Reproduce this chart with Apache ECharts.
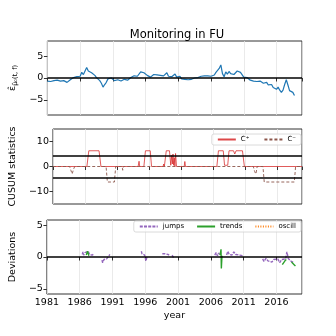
<!DOCTYPE html>
<html style="height: 100%">
<head>
<meta charset="utf-8">
<script src="https://cdn.jsdelivr.net/npm/echarts@6/dist/echarts.min.js"></script>
</head>
<body style="height: 100%; margin: 0; background: #fff;">
<div id="container" style="width: 336px; height: 336px;"></div>
<script type="text/javascript">
// 数据
var BASE_YEAR = 1981;
var xTickYears = [1981, 1986, 1991, 1996, 2001, 2006, 2011, 2016];

// 上图：残差，季度采样，从 1981.0 开始
var residStart = 1981.0;
var residStep = 0.25;
var residValues = [
  -0.7, -0.6, -0.8, -0.7,  -0.6, -0.7, -0.5, -0.6,  -0.7, -0.8, -0.6, -0.9,
  -1.0, -0.7, -0.4, -0.2,   0.1, -0.2, 0.3, 0.0,    0.4, 1.3, 0.8, 1.6,
  2.4, 1.6, 1.9, 1.2,       1.0, 0.6, 0.1, -0.3,   -0.6, -1.2, -2.1, -1.5,
  -1.0, -0.2, 0.2, 0.0,    -0.4, -0.6, -0.7, -0.4, -0.5, -0.7, -0.5, -0.3,
  -0.4, -0.5, -0.2, 0.1,    0.3, 0.5, 0.9, 0.4,     0.8, 1.4, 1.7, 1.2,
  1.5, 0.6, 0.3, 0.2,       0.5, 0.8, 0.4, 0.7,     1.1, 0.6, 1.0, 0.5,
  0.8, 1.2, 0.4, 0.1,       0.3, 0.6, 0.9, 0.2,     0.5, 0.4, -0.2, -0.4,
  -0.3, -0.6, -0.4, -0.2,  -0.3, -0.1, 0.0, 0.2,    0.1, 0.3, 0.4, 0.2,
  0.5, 0.7, 0.5, 0.6,       0.4, 0.8, 0.7, 1.3,     1.5, 2.2, 3.0, 1.0,
  0.3, 1.4, 0.9, 1.5,       1.0, 1.3, 0.8, 1.1,     1.6, 1.8, 1.3, 0.9,
  0.2, -0.1, 0.1, -0.3,    -0.5, -0.4, -0.7, -0.5, -0.8, -1.0, -0.7, -1.1,
  -1.2, -1.4, -1.0, -1.6,  -1.8, -1.5, -2.2, -2.0, -2.6, -2.1, -2.8, -3.3,
  -2.8, -1.5, -0.4, -1.6,  -2.9, -2.7, -3.3, -4.0
];

// 中图：CUSUM
var cPlus = [
  [1981, 0], [1986.3, 0], [1986.6, 6.3], [1988.2, 6.3], [1988.5, 0],
  [1994.3, 0], [1994.45, 2.1], [1994.55, 0], [1995.2, 0], [1995.45, 6.3],
  [1996.2, 6.3], [1996.4, 0], [1998.2, 0], [1998.3, 1], [1998.4, 0],
  [1998.5, 0], [1998.7, 6.3], [1999.2, 6.3], [1999.4, 0.5], [1999.55, 4.5],
  [1999.65, 1], [1999.75, 5], [1999.85, 0.5], [1999.95, 3.5], [2000.05, 0],
  [2000.15, 5.2], [2000.3, 0], [2001.5, 0], [2001.6, 2], [2001.7, 0],
  [2006.6, 0], [2006.85, 6.3], [2007.6, 6.3], [2007.8, 0.5], [2008.0, 0.8],
  [2008.3, 0.5], [2008.5, 6.3], [2009.2, 6.3], [2009.4, 5.0], [2009.6, 6.3],
  [2010.6, 6.3], [2010.9, 0], [2019.9, 0]
];
var cMinus = [
  [1981, 0], [1983.6, 0], [1983.8, -1.5], [1984.0, -3], [1984.2, -1.2],
  [1984.4, 0], [1989.3, 0], [1989.5, -6.2], [1990.6, -6.2], [1990.8, 0],
  [1991.8, 0], [1991.9, -1.5], [1992.0, 0], [2012.3, 0], [2012.5, -2],
  [2012.7, -3], [2012.9, 0], [2013.8, 0], [2014.0, -6.2], [2018.7, -6.2],
  [2018.9, 0], [2019.9, 0]
];
var thresholds = [4.35, -4.35];

// 下图：偏差（分段）
var jumpsSegments = [
  [[1986.4, 0.4], [1986.5, 0.8], [1986.6, 0.3], [1986.8, 0.7], [1987.0, 0.5], [1987.3, 0.9], [1987.5, 0.4], [1987.7, 0.7], [1987.9, 0.3], [1988.2, 0.5]],
  [[1989.4, -0.5], [1989.5, -0.9], [1989.7, -0.4], [1989.9, -0.7], [1990.1, -0.3], [1990.4, 0.1], [1990.6, 0.4]],
  [[1995.4, 0.9], [1995.5, 0.5], [1995.7, 0.8], [1995.9, 0.3], [1996.0, 0.5], [1996.1, -0.6], [1996.3, 0.2]],
  [[1998.6, 0.5], [1998.8, 0.3], [1999.0, 0.5], [1999.2, 0.2], [1999.5, 0.4], [1999.7, 0.2]],
  [[2000.1, 0.3], [2000.3, -0.1]],
  [[2006.6, 0.3], [2006.8, 0.7], [2007.0, 0.2], [2007.2, 0.6], [2007.3, 0.4]],
  [[2008.4, 0.3], [2008.6, 0.9], [2008.8, 0.4], [2009.0, 0.7], [2009.2, 0.3], [2009.5, 0.8], [2009.8, 0.4], [2010.1, 0.7], [2010.4, 0.3], [2010.7, 0.5], [2010.9, 0.2]],
  [[2013.9, -0.3], [2014.1, -0.7], [2014.4, -0.2], [2014.7, -0.6], [2015.0, -0.3], [2015.3, -0.8], [2015.6, -0.4], [2015.9, -0.7], [2016.2, -0.3], [2016.5, -0.9], [2016.8, -0.4], [2017.1, -0.7], [2017.4, -0.3], [2017.6, 0.8], [2017.8, -0.2], [2018.1, -0.6], [2018.4, -0.3], [2018.7, -0.9]]
];
var trendsSegments = [
  [[1987.0, 0.3], [1987.2, 0.9], [1987.4, 0.2]],
  [[2007.4, 0.3], [2007.55, 1.2], [2007.6, -1.8], [2007.7, 0.2]],
  [[2016.9, -1.2], [2017.1, -0.9], [2017.3, -0.6], [2017.5, -0.4]],
  [[2018.3, -0.8], [2018.5, -1.0], [2018.7, -1.2], [2018.9, -1.4]]
];
var oscillSegments = [];

var yTicks1 = [-5, 0, 5];
var yTicks2 = [-10, 0, 10];
var yTicks3 = [-5, 0, 5];

// 转换
function shift(pts) {
  return pts.map(function (p) { return [p[0] - BASE_YEAR, p[1]]; });
}
var residData = residValues.map(function (v, i) {
  return [residStart + i * residStep - BASE_YEAR, v];
});

var FONT = 'DejaVu Sans';
var grids = [
  {left: 42, top: 41, width: 260, height: 74},
  {left: 42, top: 129, width: 260, height: 75},
  {left: 42, top: 220, width: 260, height: 74}
];
grids.forEach(function (g) {
  g.show = true; g.borderColor = '#333'; g.borderWidth = 1; g.backgroundColor = 'transparent';
});

function xAxis(idx, showLabel) {
  return {
    type: 'value', gridIndex: idx, min: 0, max: 38.9, interval: 5,
    axisLine: {show: false},
    axisTick: {show: true, length: 3.5, lineStyle: {color: '#333'}},
    axisLabel: {show: showLabel, color: '#000', fontFamily: FONT, fontSize: 9.5, margin: 4,
      formatter: function (v) { return String(v + BASE_YEAR); }},
    splitLine: {show: true, lineStyle: {color: '#e4e4e4', width: 0.8}},
    name: showLabel ? 'year' : '', nameLocation: 'middle', nameGap: 17,
    nameTextStyle: {fontFamily: FONT, fontSize: 9.5, color: '#000'}
  };
}
function yAxis(idx, min, max, ticks, name, gap, rich) {
  return {
    type: 'value', gridIndex: idx, min: min, max: max,
    axisLine: {show: false},
    axisTick: {show: true, length: 3.5, lineStyle: {color: '#333'}, customValues: ticks},
    axisLabel: {color: '#000', fontFamily: FONT, fontSize: 9.5, margin: 4, customValues: ticks,
      formatter: function (v) { return v < 0 ? '\u2212' + Math.abs(v) : String(v); }},
    splitLine: {show: false},
    name: name, nameLocation: 'middle', nameGap: gap, nameRotate: 90,
    nameTextStyle: {fontFamily: FONT, fontSize: 9.5, color: '#000', rich: rich}
  };
}

var blackLine = {color: '#000', width: 1.5, type: 'solid'};
var series = [
  {
    name: 'resid', type: 'line', xAxisIndex: 0, yAxisIndex: 0, data: residData,
    symbol: 'none', lineStyle: {color: '#1f77b4', width: 1.2}, z: 3,
    markLine: {silent: true, symbol: 'none', label: {show: false}, lineStyle: blackLine,
      data: [{yAxis: 0}]}
  },
  {
    name: 'C\u207A', type: 'line', xAxisIndex: 1, yAxisIndex: 1, data: shift(cPlus),
    symbol: 'none', itemStyle: {color: '#d62728'}, lineStyle: {color: '#d62728', width: 0.9, opacity: 0.85},
    markLine: {silent: true, symbol: 'none', label: {show: false}, lineStyle: blackLine,
      data: thresholds.map(function (t) { return {yAxis: t}; })}
  },
  {
    name: 'C\u207B', type: 'line', xAxisIndex: 1, yAxisIndex: 1, data: shift(cMinus),
    symbol: 'none', itemStyle: {color: '#8c564b'}, lineStyle: {color: '#8c564b', width: 0.9, type: [3, 2]}
  }
];
var segStyles = [
  ['jumps', jumpsSegments, '#9467bd', [3, 1.2], 3],
  ['trends', trendsSegments, '#2ca02c', 'solid', 4],
  ['oscill', oscillSegments, '#ff7f0e', [1, 1.5], 4]
];
segStyles.forEach(function (s) {
  var segs = s[1].length ? s[1] : [[]];
  segs.forEach(function (seg) {
    series.push({
      name: s[0], type: 'line', xAxisIndex: 2, yAxisIndex: 2, data: shift(seg), z: s[4],
      symbol: 'none', itemStyle: {color: s[2]}, lineStyle: {color: s[2], width: 1.4, type: s[3]}
    });
  });
});
series.push({
  name: 'zero3', type: 'line', xAxisIndex: 2, yAxisIndex: 2, data: [], silent: true, z: 2,
  markLine: {silent: true, symbol: 'none', label: {show: false}, lineStyle: blackLine, data: [{yAxis: 0}]}
});

var legendCommon = {
  orient: 'horizontal', itemWidth: 18, itemHeight: 8, padding: [2, 5, 2, 5],
  borderColor: '#d0d0d0', borderWidth: 0.8, borderRadius: 2, backgroundColor: 'rgba(255,255,255,0.8)',
  itemStyle: {opacity: 0},
  textStyle: {fontFamily: FONT, fontSize: 7, color: '#000'}
};

var option = {
  animation: false,
  title: {
    text: 'Monitoring in FU', left: 172, top: 24, textAlign: 'center',
    textStyle: {fontFamily: FONT, fontSize: 11.5, fontWeight: 'normal', color: '#000'}
  },
  grid: grids,
  xAxis: [xAxis(0, false), xAxis(1, false), xAxis(2, true)],
  yAxis: [
    yAxis(0, -8.5, 8.5, yTicks1, '{e|\u03B5\u0302}{s|\u03BC\u0302\u2080(t, f)}', 22,
      {e: {fontFamily: FONT, fontSize: 9.5}, s: {fontFamily: FONT, fontSize: 6.5, padding: [4, 0, 0, 0]}}),
    yAxis(1, -15, 15, yTicks2, 'CUSUM statistics', 25),
    yAxis(2, -5.8, 5.8, yTicks3, 'Deviations', 20)
  ],
  legend: [
    Object.assign({}, legendCommon, {data: ['C\u207A', 'C\u207B'], right: 35, top: 134, itemGap: 14}),
    Object.assign({}, legendCommon, {data: ['jumps', 'trends', 'oscill'], right: 35, top: 221, itemGap: 12})
  ],
  series: series
};

var chart = echarts.init(document.getElementById('container'));
chart.setOption(option);
</script>
</body>
</html>
